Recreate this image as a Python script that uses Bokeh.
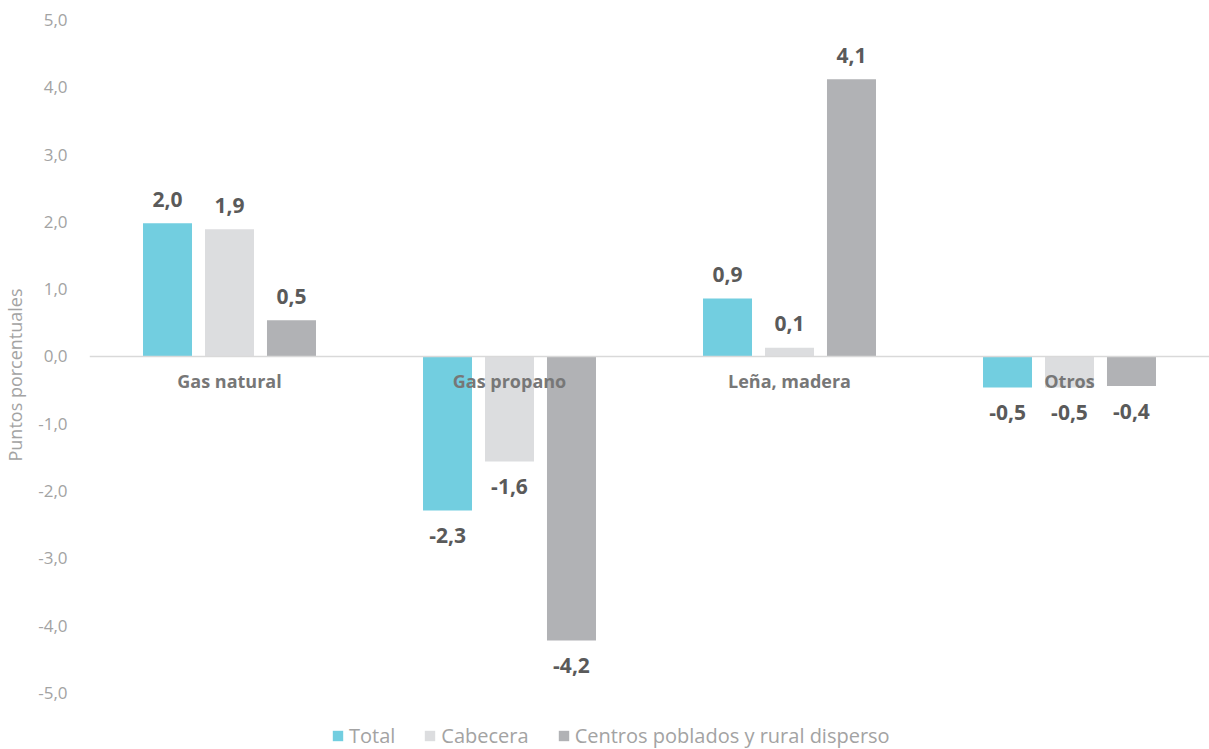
from bokeh.plotting import figure
from bokeh.models import (ColumnDataSource, FactorRange, Range1d, FixedTicker, CustomJSTickFormatter,
                          Span, Legend, LegendItem)
from bokeh.transform import dodge
from bokeh.core.properties import value
from bokeh.embed import file_html
from bokeh.resources import INLINE

categories = ["Gas natural", "Gas propano", "Leña, madera", "Otros"]
series_names = ["Total", "Cabecera", "Centros poblados y rural disperso"]
total = [1.98, -2.29, 0.86, -0.46]
cabecera = [1.89, -1.56, 0.13, -0.46]
centros = [0.54, -4.22, 4.12, -0.44]
colors = ["#72CEE0", "#DCDDDF", "#B1B2B5"]
y_ticks = [-5, -4, -3, -2, -1, 0, 1, 2, 3, 4, 5]

FONT = "Open Sans"

p = figure(width=1209, height=749, x_range=FactorRange(factors=categories, range_padding=0),
           y_range=Range1d(-5.84, 5.29), output_backend="svg", toolbar_location=None,
           min_border_left=86, min_border_right=0, min_border_top=0, min_border_bottom=0)
p.outline_line_color = None
p.xaxis.visible = False
p.xgrid.grid_line_color = None
p.ygrid.grid_line_color = None
p.background_fill_color = "white"
p.border_fill_color = "white"

ax = p.yaxis[0]
ax.ticker = FixedTicker(ticks=y_ticks)
ax.formatter = CustomJSTickFormatter(code="return tick.toFixed(1).replace('.', ',');")
ax.axis_line_color = None
ax.major_tick_line_color = None
ax.minor_tick_line_color = None
ax.major_label_standoff = 16
ax.major_label_text_font = FONT
ax.major_label_text_font_size = "17px"
ax.major_label_text_color = "#a3a3a3"
ax.axis_label = "Puntos porcentuales"
ax.axis_label_text_font = FONT
ax.axis_label_text_font_style = "normal"
ax.axis_label_text_font_size = "18px"
ax.axis_label_text_color = "#a3a3a3"
ax.axis_label_standoff = 8

p.add_layout(Span(location=0, dimension="width", line_color="#d9d9d9", line_width=1.5))

offsets = [-0.2214, 0.0, 0.2214]
series_vals = [total, cabecera, centros]
items = []
for name, vals, off, col in zip(series_names, series_vals, offsets, colors):
    labels = [("%.1f" % v).replace(".", ",") for v in vals]
    src = ColumnDataSource(dict(cat=categories, val=vals, lab=labels))
    r = p.vbar(x=dodge("cat", off, range=p.x_range), top="val", bottom=0, width=0.175,
               source=src, fill_color=col, line_color=None)
    items.append(LegendItem(label=name, renderers=[r]))
    pos_src = ColumnDataSource(dict(cat=[c for c, v in zip(categories, vals) if v >= 0],
                                    val=[v for v in vals if v >= 0],
                                    lab=[l for l, v in zip(labels, vals) if v >= 0]))
    neg_src = ColumnDataSource(dict(cat=[c for c, v in zip(categories, vals) if v < 0],
                                    val=[v for v in vals if v < 0],
                                    lab=[l for l, v in zip(labels, vals) if v < 0]))
    p.text(x=dodge("cat", off, range=p.x_range), y="val", text="lab", source=pos_src,
           text_align="center", text_baseline="middle", y_offset=-24,
           text_font=value(FONT), text_font_style="bold", text_font_size="21px",
           text_color="#5a5a5a")
    p.text(x=dodge("cat", off, range=p.x_range), y="val", text="lab", source=neg_src,
           text_align="center", text_baseline="middle", y_offset=25,
           text_font=value(FONT), text_font_style="bold", text_font_size="21px",
           text_color="#5a5a5a")

cat_src = ColumnDataSource(dict(cat=categories, y=[0] * len(categories)))
p.text(x="cat", y="y", text="cat", source=cat_src, text_align="center",
       text_baseline="middle", y_offset=25, text_font=value(FONT),
       text_font_style="bold", text_font_size="18px", text_color="#777777")

legend = Legend(items=items, orientation="horizontal", location=(242, 0),
                border_line_color=None, background_fill_alpha=0, padding=0, margin=0,
                spacing=28, label_standoff=5, glyph_width=13, glyph_height=13,
                label_text_font=FONT, label_text_font_size="20px", label_text_color="#a3a3a3")
p.add_layout(legend)

open("out.html", "w").write(file_html(p, INLINE))
